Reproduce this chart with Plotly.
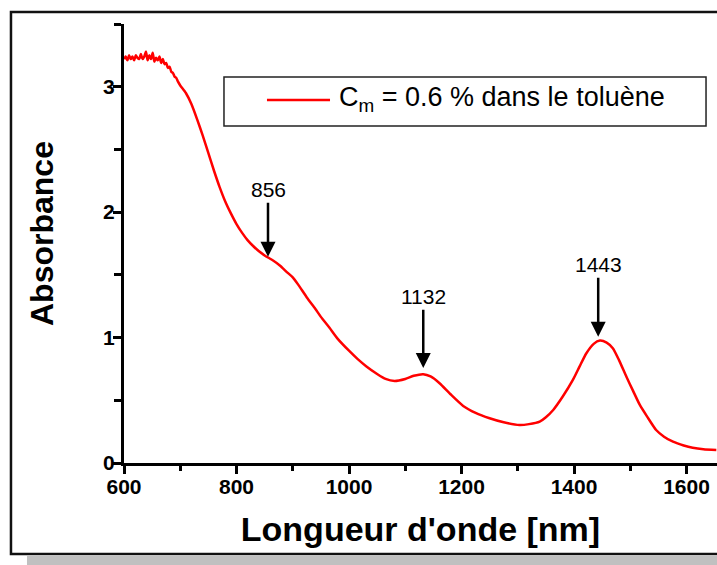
import plotly.graph_objects as go

# ---- data ----
wavelength_nm = [
    600, 603, 606, 609, 612, 615, 618, 621, 624, 627, 630, 633, 636, 639, 642, 645,
    648, 651, 654, 657, 660, 663, 666, 669, 672, 675, 678, 681, 684, 687, 690, 693,
    696, 700, 710, 720, 730, 740, 750, 760, 770, 780, 790, 800, 810, 820, 830, 840,
    850, 856, 865, 877, 890, 900, 910, 925, 940, 950, 965, 980, 1000, 1015, 1031,
    1050, 1065, 1081, 1100, 1115, 1132, 1145, 1161, 1180, 1203, 1225, 1250, 1275,
    1303, 1320, 1339, 1350, 1363, 1380, 1398, 1410, 1422, 1435, 1446, 1458, 1469,
    1480, 1493, 1505, 1517, 1530, 1546, 1560, 1576, 1595, 1611, 1630, 1653,
]
absorbance = [
    3.22, 3.24, 3.21, 3.25, 3.22, 3.24, 3.21, 3.25, 3.23, 3.22, 3.26, 3.22, 3.24, 3.28, 3.21, 3.25,
    3.22, 3.27, 3.20, 3.23, 3.21, 3.24, 3.19, 3.22, 3.18, 3.19, 3.15, 3.16, 3.12, 3.11, 3.08, 3.07,
    3.04, 3.01, 2.95, 2.86, 2.74, 2.61, 2.47, 2.33, 2.20, 2.085, 1.99, 1.905, 1.835, 1.775, 1.728, 1.688,
    1.655, 1.638, 1.615, 1.575, 1.52, 1.48, 1.42, 1.32, 1.23, 1.165, 1.08, 0.99, 0.895, 0.83, 0.77,
    0.71, 0.67, 0.654, 0.67, 0.695, 0.708, 0.69, 0.636, 0.55, 0.455, 0.40, 0.357, 0.325,
    0.303, 0.31, 0.33, 0.365, 0.423, 0.53, 0.662, 0.77, 0.875, 0.95, 0.976, 0.96, 0.915,
    0.82, 0.689, 0.575, 0.463, 0.37, 0.263, 0.21, 0.17, 0.14, 0.122, 0.11, 0.104,
]
series_name = "C<sub>m</sub> = 0.6 % dans le toluène"

peak_labels = ["856", "1132", "1443"]
peak_x = [856, 1132, 1443]
peak_tip_y = [1.644, 0.758, 1.006]
peak_label_y = [2.179, 1.325, 1.58]

x_tick_vals = [600, 800, 1000, 1200, 1400, 1600]
y_tick_vals = [0, 1, 2, 3]

FONT = "Liberation Sans, Arial, sans-serif"

fig = go.Figure()
fig.add_trace(go.Scatter(
    x=wavelength_nm, y=absorbance, mode="lines", name=series_name,
    line=dict(color="#ff0000", width=2.5, shape="spline", smoothing=0.6),
    showlegend=False, hoverinfo="skip",
))

# peak annotations
for lab, px, ty, ly in zip(peak_labels, peak_x, peak_tip_y, peak_label_y):
    fig.add_annotation(
        x=px, y=ty, ax=px, ay=ly, axref="x", ayref="y", xref="x", yref="y",
        text=lab, showarrow=True, arrowhead=2, arrowsize=1.2, arrowwidth=2.5,
        arrowcolor="black", font=dict(family=FONT, size=21, color="black"),
    )

# legend drawn as a boxed entry
fig.add_shape(type="rect", xref="paper", yref="paper",
              x0=0.1686, x1=0.9815, y0=0.7677, y1=0.879,
              line=dict(color="#222", width=1.5), fillcolor="white")
fig.add_shape(type="line", xref="paper", yref="paper",
              x0=0.2411, x1=0.3474, y0=0.8269, y1=0.8269,
              line=dict(color="#ff0000", width=2.5))
fig.add_annotation(xref="paper", yref="paper", x=0.3592, y=0.8292,
                   xanchor="left", yanchor="middle", showarrow=False,
                   text=series_name, font=dict(family=FONT, size=27, color="black"))

# y-axis title
fig.add_annotation(xref="paper", yref="paper", x=(42 - 124) / 593, y=(463 - 234) / 439,
                   xanchor="center", yanchor="middle", showarrow=False, textangle=-90,
                   text="Absorbance",
                   font=dict(family=FONT, size=32, color="black", weight="bold"))

# outer frame with shadow
fig.add_shape(type="rect", xref="paper", yref="paper", layer="below",
              x0=-0.1636, x1=1.05, y0=-0.26, y1=-0.2118,
              line=dict(width=0), fillcolor="#c0c0c0")
fig.add_shape(type="rect", xref="paper", yref="paper", layer="below",
              x0=-0.1906, x1=1.05, y0=-0.2073, y1=1.0273,
              line=dict(color="#111", width=2.5), fillcolor="rgba(0,0,0,0)")

fig.update_xaxes(
    range=[600, 1654.2], showline=True, linecolor="black", linewidth=3,
    ticks="outside", ticklen=8, tickwidth=2.5, tickcolor="black",
    tickvals=x_tick_vals, ticktext=[str(v) for v in x_tick_vals],
    minor=dict(dtick=100, tick0=600, ticks="outside", ticklen=5, tickwidth=2.5, tickcolor="black"),
    tickfont=dict(family=FONT, size=21, color="black", weight="bold"),
    ticklabelstandoff=-5,
    showgrid=False, zeroline=False, mirror=False,
    title=dict(text="Longueur d'onde [nm]", standoff=20,
               font=dict(family=FONT, size=34, color="black", weight="bold")),
)
fig.update_yaxes(
    range=[0, 3.5], showline=True, linecolor="black", linewidth=3,
    ticks="outside", ticklen=8, tickwidth=2.5, tickcolor="black",
    tickvals=y_tick_vals, ticktext=[str(v) for v in y_tick_vals],
    minor=dict(dtick=0.5, tick0=0, ticks="outside", ticklen=7, tickwidth=2.5, tickcolor="black"),
    tickfont=dict(family=FONT, size=21, color="black", weight="bold"),
    ticklabelstandoff=-6,
    showgrid=False, zeroline=False, mirror=False,
)

fig.update_layout(
    width=717, height=565,
    margin=dict(l=124, r=0, t=24, b=102, autoexpand=False),
    paper_bgcolor="white", plot_bgcolor="white",
    showlegend=False,
)
fig.update_xaxes(automargin=False)
fig.update_yaxes(automargin=False)

fig.write_html("out.html", config={"displayModeBar": False},
               post_script="document.body.style.margin='0px';document.body.style.overflow='hidden';")
